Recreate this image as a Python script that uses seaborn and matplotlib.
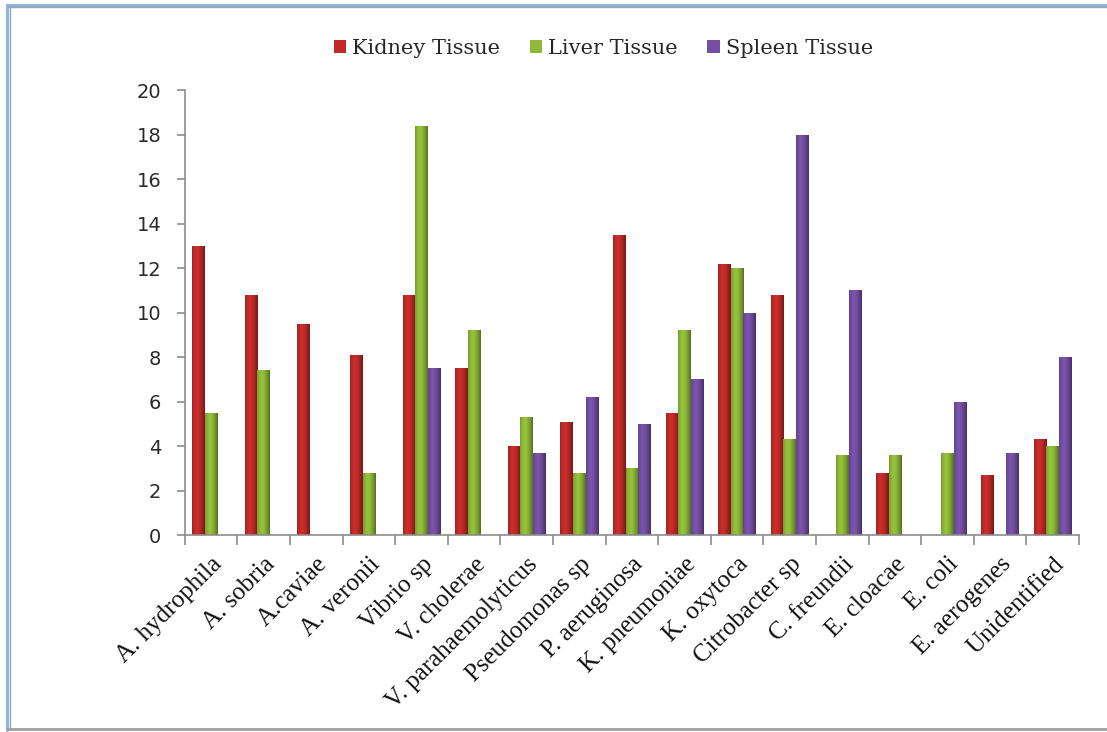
import numpy as np
import pandas as pd
import matplotlib
matplotlib.use("Agg")
import matplotlib.pyplot as plt
import seaborn as sns
from matplotlib.colors import to_rgb
from matplotlib.lines import Line2D
from matplotlib.patches import Patch

# Bacterial isolates recovered from fish tissues
species = [
    "A. hydrophila", "A. sobria", "A.caviae", "A. veronii", "Vibrio sp",
    "V. cholerae", "V. parahaemolyticus", "Pseudomonas sp", "P. aeruginosa",
    "K. pneumoniae", "K. oxytoca", "Citrobacter sp", "C. freundii",
    "E. cloacae", "E. coli", "E. aerogenes", "Unidentified",
]
kidney = [13.0, 10.8, 9.5, 8.1, 10.8, 7.5, 4.0, 5.1, 13.5, 5.5, 12.2, 10.8, 0, 2.8, 0, 2.7, 4.3]
liver = [5.5, 7.4, 0, 2.8, 18.4, 9.2, 5.3, 2.8, 3.0, 9.2, 12.0, 4.3, 3.6, 3.6, 3.7, 0, 4.0]
spleen = [0, 0, 0, 0, 7.5, 0, 3.7, 6.2, 5.0, 7.0, 10.0, 18.0, 11.0, 0, 6.0, 3.7, 8.0]
tissues = ["Kidney Tissue", "Liver Tissue", "Spleen Tissue"]
y_ticks = list(range(0, 21, 2))

colors = {"Kidney Tissue": "#C02A28", "Liver Tissue": "#8DB838", "Spleen Tissue": "#744FA3"}

df = pd.DataFrame({
    "Species": species * 3,
    "Tissue": np.repeat(tissues, len(species)),
    "Count": kidney + liver + spleen,
})

sns.set_theme(style="white")
fig = plt.figure(figsize=(11.07, 7.32), dpi=100)
ax = fig.add_axes([0.167, 0.269, 0.8077, 0.608])

sns.barplot(data=df, x="Species", y="Count", hue="Tissue", hue_order=tissues,
            palette=colors, width=0.72, saturation=1, linewidth=0,
            errorbar=None, ax=ax, legend=False)

ax.set_xlim(-0.5, len(species) - 0.5)
ax.set_ylim(0, 20)


def shade(base, n=64):
    """Horizontal cylinder-like shading for a bar."""
    rgb = np.array(to_rgb(base))
    t = np.linspace(0, 1, n)
    prof = 1 - np.clip(np.abs(t - 0.38) / 0.62, 0, 1) ** 1.6
    dark = rgb * 0.6
    light = np.clip(rgb * 1.06, 0, 1)
    img = dark[None, :] + (light - dark)[None, :] * prof[:, None]
    return img[None, :, :]


for container, tissue in zip(ax.containers, tissues):
    grad = shade(colors[tissue])
    for bar in container:
        h = bar.get_height()
        if not np.isfinite(h) or h <= 0:
            continue
        x0, w = bar.get_x(), bar.get_width()
        im = ax.imshow(grad, extent=[x0, x0 + w, 0, h], aspect="auto",
                       interpolation="bilinear", zorder=bar.get_zorder() + 0.1)
        im.set_clip_path(bar)

ax.set_xlim(-0.5, len(species) - 0.5)
ax.set_ylim(0, 20)
ax.set_aspect("auto")

# axes styling
axis_gray = "#8C8C8C"
for side in ("top", "right"):
    ax.spines[side].set_visible(False)
for side in ("left", "bottom"):
    ax.spines[side].set_color(axis_gray)
    ax.spines[side].set_linewidth(1.2)

ax.set_yticks(y_ticks)
ax.set_yticklabels([str(v) for v in y_ticks], fontsize=14, family="DejaVu Sans", color="#2a2a2a")
ax.tick_params(axis="y", direction="out", length=6, width=1.2, color=axis_gray, left=True, pad=11)

ax.set_xticks(range(len(species)))
ax.set_xticklabels(species, rotation=45, ha="right", rotation_mode="anchor",
                   fontsize=18, family="Liberation Serif", color="#111111")
ax.tick_params(axis="x", which="major", length=0, pad=13)
ax.set_xticks(np.arange(-0.5, len(species), 1.0), minor=True)
ax.tick_params(axis="x", which="minor", direction="out", length=7, width=1.2,
               color=axis_gray, bottom=True)
ax.set_xlabel("")
ax.set_ylabel("")

# legend
handles = [Patch(facecolor=colors[t], edgecolor="none") for t in tissues]
fig.legend(handles, tissues, loc="center", bbox_to_anchor=(0.545, 0.934), ncol=3,
           frameon=False, prop={"family": "DejaVu Serif", "size": 15},
           handlelength=0.6, handleheight=0.6, handletextpad=0.3, columnspacing=1.4)

# outer frame
W, H = 1107, 732
def fx(px):
    return px / W
def fy(py):
    return 1 - py / H
fig.add_artist(Line2D([fx(7), 1], [fy(5), fy(5)], color="#8DB3E2", lw=2.2))
fig.add_artist(Line2D([fx(7), fx(7)], [fy(5), fy(730)], color="#8DB3E2", lw=2.2))
fig.add_artist(Line2D([fx(9), 1], [fy(7), fy(7)], color="#A0A0A0", lw=1))
fig.add_artist(Line2D([fx(10), fx(10)], [fy(7), fy(728)], color="#A0A0A0", lw=1))
fig.add_artist(Line2D([fx(7), 1], [fy(729), fy(729)], color="#A0A0A0", lw=2))

fig.savefig("out.png", dpi=100)
